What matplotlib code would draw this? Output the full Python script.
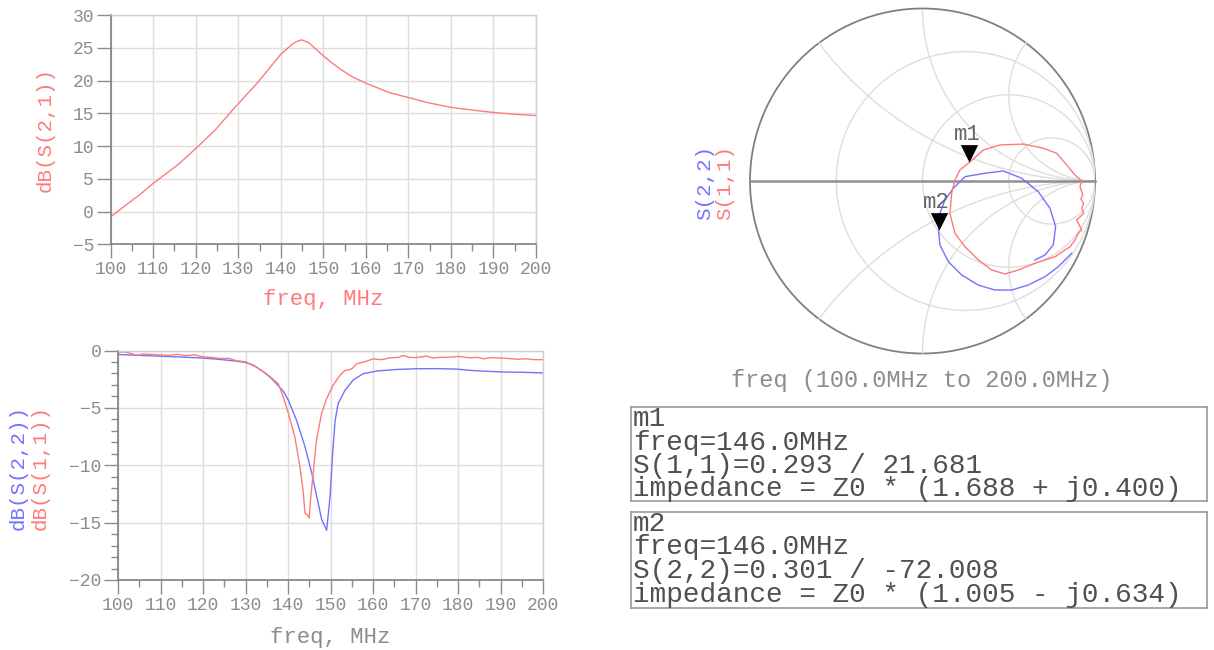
import matplotlib
matplotlib.use('Agg')
import matplotlib.pyplot as plt
import numpy as np
from matplotlib.ticker import MultipleLocator
from matplotlib.patches import Circle

plt.rcParams['font.family'] = ['Liberation Mono', 'DejaVu Sans Mono']

RED = '#ff7a7a'
BLUE = '#7272ff'
GRAY = '#8c8c8c'
GRID = '#dedede'

# dB(S(2,1)), top plot
f21 = [100, 104.2, 106.5, 109.8, 115.9, 119.8, 124.5, 129.2, 134.7, 140, 142.6, 143.7,
       144.9, 146.5, 149.6, 152, 154.3, 157, 160, 165.3, 170, 174.7, 180, 184.9, 189.6,
       195, 200]
s21_db = [-0.8, 1.3, 2.4, 4.2, 7.2, 9.5, 12.4, 15.9, 19.8, 24.0, 25.5, 25.95,
          26.2, 25.8, 24.0, 22.7, 21.6, 20.5, 19.6, 18.2, 17.4, 16.6, 15.9, 15.5, 15.15,
          14.85, 14.65]

# dB(S(1,1)), bottom plot
f11 = [100, 101.5, 103, 104.5, 106, 108, 110, 112, 114, 116, 118, 120, 122, 124, 126, 128,
       130, 132.6, 135.4, 137.7, 138.9, 140.1, 141.6, 142.8, 143.6, 144.0, 144.5, 145.0,
       145.3, 146.0, 146.7, 147.9, 149.1, 150.5, 152.2, 153.4, 154.2, 155.0, 156.2, 158.5,
       160.1, 162, 164, 166, 167.1, 168.5, 170, 172.6, 174, 175.8, 178, 180.1, 182.8,
       184.5, 186, 188, 190, 192, 194, 196, 198, 200]
s11_db = [-0.15, -0.12, -0.25, -0.42, -0.3, -0.35, -0.38, -0.42, -0.33, -0.45, -0.38, -0.55,
          -0.6, -0.7, -0.68, -0.9, -0.98, -1.45, -2.17, -2.89, -4.05, -5.49, -7.52, -10.1,
          -12.4, -14.2, -14.3, -14.6, -13.0, -10.4, -7.8, -5.49, -4.19, -3.1, -2.17, -1.73,
          -1.7, -1.59, -1.16, -0.93, -0.72, -0.8, -0.64, -0.6, -0.43, -0.6, -0.62, -0.49,
          -0.66, -0.6, -0.58, -0.52, -0.64, -0.6, -0.72, -0.62, -0.66, -0.7, -0.76, -0.72,
          -0.8, -0.8]

# dB(S(2,2)), bottom plot
f22 = [100, 105, 110, 115, 120, 124, 128, 130, 132, 134.2, 136, 137.3, 139, 140.1, 142, 144,
       145.6, 147.1, 147.9, 149.1, 149.9, 150.5, 151.1, 151.8, 153.4, 155.4, 157.7, 160.9,
       165.6, 170.3, 175, 179.7, 182.8, 186, 191, 195, 200]
s22_db = [-0.35, -0.42, -0.5, -0.57, -0.66, -0.78, -0.93, -1.05, -1.3, -1.85, -2.4, -2.9,
          -3.6, -4.34, -6.07, -8.38, -10.7, -13.3, -14.7, -15.67, -12.7, -8.96, -6.07, -4.62,
          -3.47, -2.55, -2.02, -1.79, -1.65, -1.59, -1.58, -1.62, -1.73, -1.8, -1.88, -1.9,
          -1.95]

# smith chart traces (reflection coefficient, real / imag)
s11_re = [0.923, 0.913, 0.929, 0.918, 0.934, 0.923, 0.935, 0.894, 0.923, 0.905, 0.884,
          0.855, 0.768, 0.652, 0.556, 0.478, 0.401, 0.324, 0.246, 0.188, 0.159, 0.169,
          0.188, 0.217, 0.272, 0.353, 0.449, 0.585, 0.700, 0.778, 0.836, 0.884, 0.923]
s11_im = [0.0, -0.033, -0.081, -0.105, -0.129, -0.160, -0.187, -0.226, -0.284, -0.300,
          -0.342, -0.381, -0.439, -0.477, -0.516, -0.539, -0.516, -0.458, -0.381, -0.303,
          -0.187, -0.071, 0.006, 0.064, 0.108, 0.180, 0.209, 0.214, 0.190, 0.161, 0.093,
          0.035, 0.0]
s22_re = [0.865, 0.787, 0.710, 0.613, 0.517, 0.420, 0.323, 0.227, 0.150, 0.101, 0.093,
          0.101, 0.130, 0.179, 0.246, 0.362, 0.469, 0.575, 0.671, 0.739, 0.772, 0.758,
          0.710, 0.652]
s22_im = [-0.419, -0.497, -0.555, -0.603, -0.632, -0.632, -0.603, -0.545, -0.468, -0.371,
          -0.286, -0.187, -0.110, -0.042, 0.025, 0.045, 0.058, 0.016, -0.062, -0.158,
          -0.265, -0.371, -0.429, -0.458]

# markers
m1_mag, m1_ang = 0.293, 21.681
m2_mag, m2_ang = 0.301, -72.008
m1_lines = ['m1', 'freq=146.0MHz', 'S(1,1)=0.293 / 21.681', 'impedance = Z0 * (1.688 + j0.400)']
m2_lines = ['m2', 'freq=146.0MHz', 'S(2,2)=0.301 / -72.008', 'impedance = Z0 * (1.005 - j0.634)']

W, H = 1214, 650
fig = plt.figure(figsize=(W / 100, H / 100), dpi=100)


def box(l, t, r, b):
    return [l / W, 1 - b / H, (r - l) / W, (b - t) / H]


def fx(px):
    return px / W


def fy(py):
    return 1 - py / H


def style_rect(ax, minor_y):
    ax.set_xlim(100, 200)
    ax.xaxis.set_major_locator(MultipleLocator(10))
    ax.xaxis.set_minor_locator(MultipleLocator(5))
    ax.yaxis.set_major_locator(MultipleLocator(5))
    if minor_y:
        ax.yaxis.set_minor_locator(MultipleLocator(1))
    ax.grid(True, which='major', color=GRID, lw=1.0)
    ax.set_axisbelow(True)
    ax.tick_params(which='major', direction='out', length=10, width=1, color=GRAY,
                   labelcolor=GRAY, labelsize=13, pad=2)
    ax.tick_params(which='minor', direction='out', length=5, width=1, color=GRAY)
    for s in ['left', 'bottom']:
        ax.spines[s].set_color('#7f7f7f')
        ax.spines[s].set_linewidth(1.2)
    for s in ['top', 'right']:
        ax.spines[s].set_color('#cfcfcf')
        ax.spines[s].set_linewidth(1.0)


# top: S21
ax1 = fig.add_axes(box(110.7, 15, 536, 244.3))
ax1.plot(f21, s21_db, color=RED, lw=1.0)
ax1.set_ylim(-5, 30)
style_rect(ax1, False)
fig.text(fx(45), fy(130), 'dB(S(2,1))', rotation=90, color=RED, fontsize=15,
         ha='center', va='center')
fig.text(fx(323), fy(300), 'freq, MHz', color=RED, fontsize=16, ha='center', va='center')

# bottom: S11 / S22
ax2 = fig.add_axes(box(118, 350.5, 543, 580))
ax2.plot(f22, s22_db, color=BLUE, lw=1.0)
ax2.plot(f11, s11_db, color=RED, lw=1.0)
ax2.set_ylim(-20, 0)
style_rect(ax2, True)
fig.text(fx(18), fy(467), 'dB(S(2,2))', rotation=90, color=BLUE, fontsize=15,
         ha='center', va='center')
fig.text(fx(40), fy(467), 'dB(S(1,1))', rotation=90, color=RED, fontsize=15,
         ha='center', va='center')
fig.text(fx(330), fy(637), 'freq, MHz', color=GRAY, fontsize=16, ha='center', va='center')

# smith chart
ax3 = fig.add_axes(box(750, 8.5, 1095, 353.5))
ax3.set_xlim(-1, 1)
ax3.set_ylim(-1, 1)
ax3.axis('off')
th = np.linspace(0, 2 * np.pi, 1500)
for r in [1 / 3, 1, 3]:
    c, rad = r / (1 + r), 1 / (1 + r)
    ax3.plot(c + rad * np.cos(th), rad * np.sin(th), color=GRID, lw=1.0)
for x in [0.5, 1, 2, -0.5, -1, -2]:
    gx = 1 + np.cos(th) / abs(x)
    gy = 1 / x + np.sin(th) / abs(x)
    inside = gx ** 2 + gy ** 2 <= 1.0005
    ax3.plot(np.where(inside, gx, np.nan), np.where(inside, gy, np.nan), color=GRID, lw=1.0)
ax3.add_patch(Circle((0, 0), 1, fill=False, ec='#808080', lw=1.3, clip_on=False))
ax3.plot([-1, 1], [0, 0], color='#909090', lw=1.8, clip_on=False)
ax3.plot(s22_re, s22_im, color=BLUE, lw=1.0)
ax3.plot(s11_re, s11_im, color=RED, lw=1.0)

tri = [(-0.5, 1), (0.5, 1), (0, 0)]
for name, mag, ang in [('m1', m1_mag, m1_ang), ('m2', m2_mag, m2_ang)]:
    gr = mag * np.cos(np.radians(ang))
    gi = mag * np.sin(np.radians(ang))
    ax3.plot([gr], [gi], marker=tri, ms=25, color='black', mew=0, clip_on=False)
    ax3.annotate(name, (gr, gi), xytext=(-1.5, 20), textcoords='offset points',
                 ha='center', va='center', fontsize=16, color='#666666')

fig.text(fx(922), fy(380), 'freq (100.0MHz to 200.0MHz)', color=GRAY, fontsize=17,
         ha='center', va='center')
fig.text(fx(705), fy(182), 'S(2,2)', rotation=90, color=BLUE, fontsize=15,
         ha='center', va='center')
fig.text(fx(725), fy(182), 'S(1,1)', rotation=90, color=RED, fontsize=15,
         ha='center', va='center')

# marker readout boxes
for lines, (top, bot) in [(m1_lines, (407, 501)), (m2_lines, (512, 608))]:
    axb = fig.add_axes(box(631, top, 1207, bot))
    axb.set_xticks([])
    axb.set_yticks([])
    for s in axb.spines.values():
        s.set_color('#9a9a9a')
        s.set_linewidth(1.2)
    for i, txt in enumerate(lines):
        fig.text(fx(633), fy(top + 12 + 23.5 * i), txt, color='#505050', fontsize=20,
                 ha='left', va='center')

fig.savefig('out.png', dpi=100, facecolor='white')
